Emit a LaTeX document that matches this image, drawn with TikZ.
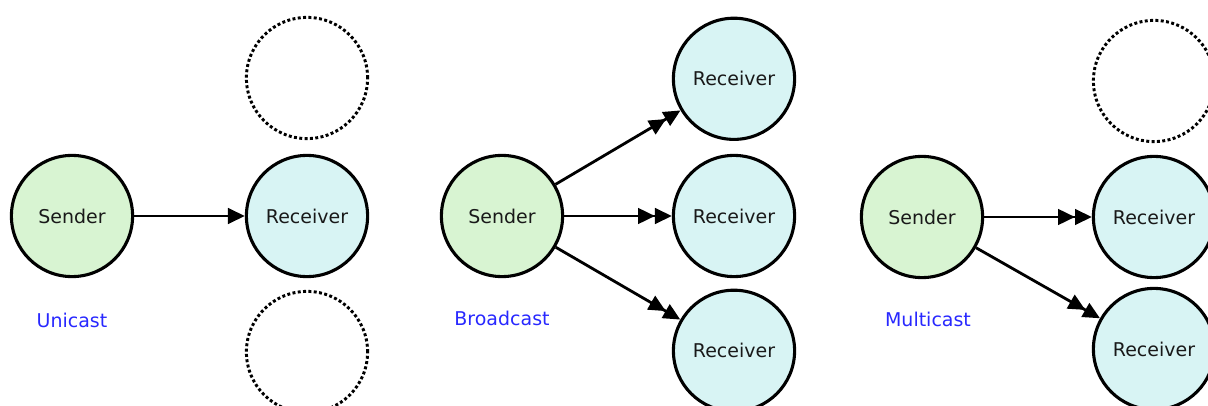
\documentclass[tikz,border=0pt]{standalone}
\usepackage{fontspec}
\setmainfont{DejaVu Sans}
\usetikzlibrary{positioning,arrows.meta}

\definecolor{sendfill}{RGB}{216,244,210}
\definecolor{recvfill}{RGB}{216,244,244}
\definecolor{castblue}{RGB}{40,40,255}

\tikzset{main/.style={draw, circle, line width=2.2pt, minimum size=3.03cm, inner sep=0pt, font=\fontsize{13.5}{16}\selectfont, text=black!90}}
\tikzset{snd/.style={main, fill=sendfill}}
\tikzset{rcv/.style={main, fill=recvfill}}
\tikzset{ghost/.style={main, line width=2.1pt, dash pattern=on 2.1pt off 1.7pt}}
\tikzset{lbl/.style={font=\fontsize{13.5}{16}\selectfont, text=castblue}}
\tikzset{msg/.style={line width=2pt, -{Triangle[length=12pt,width=11pt]}}}
\tikzset{msgtwo/.style={line width=2pt, -{Triangle[length=12pt,width=11pt]Triangle[length=12pt,width=11pt]}}}

\begin{document}
\begin{tikzpicture}[on grid, node distance={3.43cm and 5.8cm}]
    \useasboundingbox (0,0) rectangle (30.2,10.125);

    % unicast
    \node[snd] (u0) at (1.8,4.725) {Sender};
    \node[rcv] (u1) [right=5.875cm of u0] {Receiver};
    \node[ghost] (u2) [above=3.45cm of u1] {};
    \node[ghost] (u3) [below=3.4cm of u1] {};
    \node[lbl] (u4) [below=2.6cm of u0] {Unicast};

    \draw[msg] (u0) -- (u1);

    % broadcast
    \node[snd] (b0) at (12.55,4.725) {Sender};
    \node[rcv] (b2) [right=of b0] {Receiver};
    \node[rcv] (b1) [above=of b2] {Receiver};
    \node[rcv] (b3) [below=3.37cm of b2] {Receiver};
    \node[lbl] (b4) [below=2.55cm of b0] {Broadcast};

    \draw[msgtwo] (b0) -- (b1);
    \draw[msgtwo] (b0) -- (b2);
    \draw[msgtwo] (b0) -- (b3);

    % multicast
    \node[snd] (m0) at (23.05,4.7) {Sender};
    \node[rcv] (m2) [right=of m0] {Receiver};
    \node[ghost] (m1) [above=3.4cm of m2] {};
    \node[rcv] (m3) [below=3.3cm of m2] {Receiver};
    \node[lbl] (m4) [below right=2.55cm and 0.15cm of m0] {Multicast};

    \draw[msgtwo] (m0) -- (m2);
    \draw[msgtwo] (m0) -- (m3);
\end{tikzpicture}
\end{document}
